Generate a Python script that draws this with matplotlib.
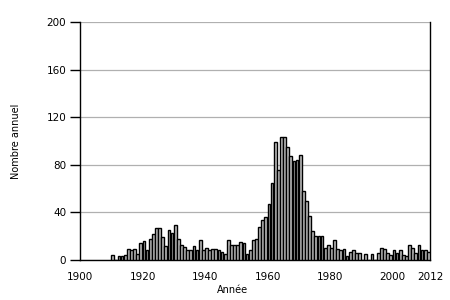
import matplotlib
matplotlib.use("Agg")
import matplotlib.pyplot as plt
import numpy as np

years = list(range(1910, 2012))
values = [
    4, 0, 3, 3, 4, 9, 8, 9, 5, 14,          # 1910-1919
    16, 8, 18, 22, 27, 27, 19, 12, 25, 23,  # 1920-1929
    29, 18, 13, 11, 8, 8, 12, 8, 17, 8,     # 1930-1939
    10, 8, 9, 9, 8, 7, 5, 17, 13, 13,       # 1940-1949
    13, 15, 14, 5, 8, 17, 18, 28, 34, 36,   # 1950-1959
    47, 65, 99, 76, 103, 103, 95, 87, 83, 84,  # 1960-1969
    88, 58, 50, 37, 24, 20, 20, 20, 10, 13, # 1970-1979
    10, 17, 9, 8, 9, 3, 7, 8, 6, 6,         # 1980-1989
    0, 5, 0, 5, 0, 6, 10, 9, 6, 4,          # 1990-1999
    8, 6, 8, 4, 3, 13, 10, 6, 13, 8,        # 2000-2009
    8, 7,                                   # 2010-2011
]
xticks = [1900, 1920, 1940, 1960, 1980, 2000, 2012]
yticks = [0, 40, 80, 120, 160, 200]

plt.rcParams['font.family'] = ['DejaVu Sans']
fig = plt.figure(figsize=(4.5, 3.0), dpi=100)
ax = fig.add_axes([80/450, 40/300, 350/450, 238/300])

ax.bar(years, values, width=0.9, align='edge', color='#c0c0c0',
       edgecolor='black', linewidth=1.0, zorder=3)

ax.set_xlim(1900, 2012)
ax.set_ylim(0, 200)
ax.set_yticks(yticks)
ax.set_xticks(xticks)
ax.yaxis.grid(True, color='#b0b0b0', linewidth=0.9, zorder=0)
ax.set_axisbelow(True)

ax.spines['top'].set_visible(False)
for s in ['left', 'right', 'bottom']:
    ax.spines[s].set_color('black')
    ax.spines[s].set_linewidth(1.0)

ax.tick_params(axis='y', length=7, width=1.0, labelsize=7.5, pad=3, colors='black')
ax.tick_params(axis='x', length=0, labelsize=7.5, pad=9, colors='black')

ax.set_ylabel('Nombre annuel', fontsize=7, labelpad=18)
ax.set_xlabel('Année', fontsize=7)
ax.xaxis.set_label_coords(0.435, -0.105)

fig.savefig('out.png', dpi=100)
